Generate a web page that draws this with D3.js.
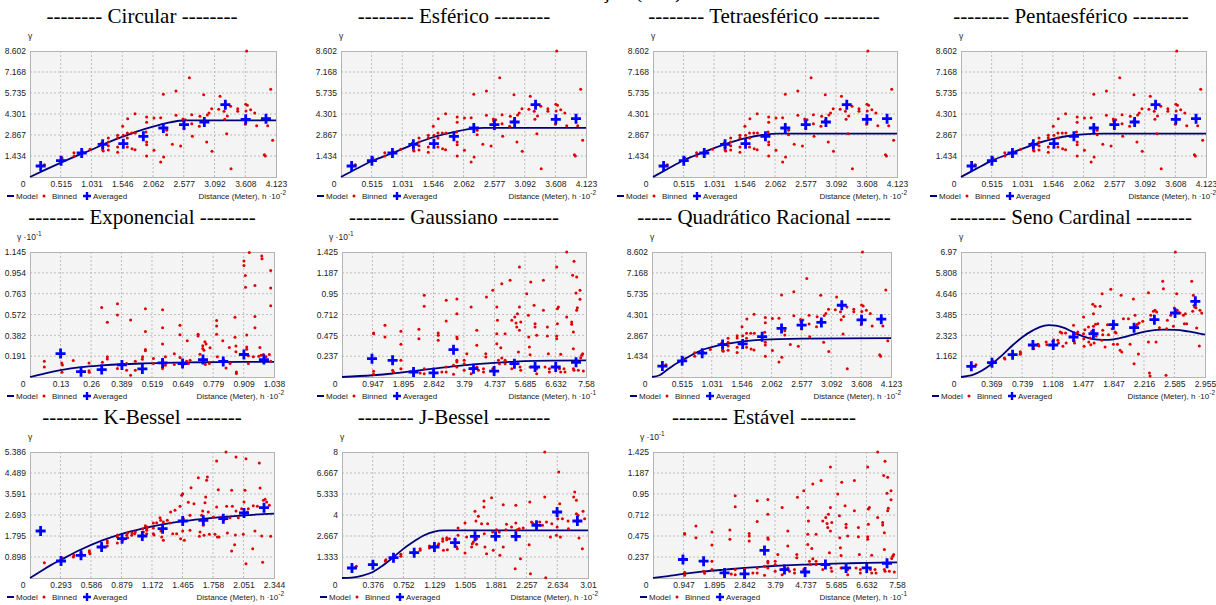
<!DOCTYPE html>
<html>
<head>
<meta charset="utf-8">
<script src="https://cdn.jsdelivr.net/npm/d3@7"></script>
<style>
body { margin: 0; background: #fff; }
svg { display: block; }
</style>
</head>
<body>
<svg id="chart" width="1216" height="605"></svg>
<script>
// ---- data ----

// dataset used by Circular / Esferico / Tetra / Penta / Quadratico
var xTicksA = ["0.515","1.031","1.546","2.062","2.577","3.092","3.608","4.123"];
var yTicksA = ["1.434","2.867","4.301","5.735","7.168","8.602"];
var binnedA = [[0.240,0.842],[0.536,1.297],[0.536,1.183],[0.737,1.661],[0.737,1.434],[0.883,1.707],[1.006,1.889],[1.201,2.321],[1.218,2.025],[1.218,1.843],[1.229,1.775],[1.313,2.663],[1.313,2.390],[1.313,2.139],[1.313,1.843],[1.469,2.845],[1.469,2.685],[1.469,2.048],[1.469,1.684],[1.553,3.459],[1.564,2.845],[1.637,3.983],[1.631,3.004],[1.631,2.663],[1.631,2.048],[1.704,3.004],[1.710,1.934],[1.760,4.324],[1.765,3.004],[1.760,1.866],[1.955,4.096],[1.955,3.732],[1.955,2.390],[1.955,2.207],[1.955,1.434],[1.944,3.072],[2.078,4.028],[2.078,1.821],[2.190,4.051],[2.190,1.024],[2.235,5.644],[2.240,1.365],[2.291,3.186],[2.291,2.890],[2.386,2.230],[2.447,5.871],[2.447,4.210],[2.525,2.116],[2.564,3.960],[2.570,3.823],[2.581,3.300],[2.603,3.914],[2.671,6.782],[2.710,4.256],[2.721,2.776],[2.710,3.641],[2.838,3.459],[2.849,4.142],[2.911,5.621],[2.916,3.869],[2.961,2.390],[2.972,4.233],[3.000,4.369],[3.045,4.665],[3.050,1.752],[3.162,4.620],[3.185,5.507],[3.252,4.483],[3.263,3.937],[3.296,2.958],[3.307,4.165],[3.363,4.825],[3.369,0.569],[3.481,4.665],[3.481,4.483],[3.615,4.961],[3.620,4.506],[3.609,3.596],[3.631,8.602],[3.643,4.893],[3.698,4.597],[3.766,4.369],[3.799,3.505],[3.928,1.525],[3.944,1.434],[3.983,3.505],[4.034,5.985],[4.067,2.503]];
var averagedA = [[0.179,0.751],[0.520,1.115],[0.866,1.638],[1.218,2.230],[1.564,2.276],[1.900,2.776],[2.235,3.345],[2.581,3.573],[2.922,3.755],[3.274,4.938],[3.615,3.937],[3.955,3.982]];
var modelCircular = [[0,0],[0.26,0.50],[0.52,0.98],[0.78,1.44],[1.03,1.86],[1.29,2.34],[1.55,2.75],[1.80,3.12],[2.06,3.44],[2.32,3.71],[2.50,3.84],[2.60,3.87],[4.123,3.87]];
var modelEsferico = [[0,0],[0.26,0.56],[0.52,1.09],[0.87,1.64],[1.22,2.23],[1.56,2.73],[1.90,3.07],[2.24,3.32],[2.40,3.35],[4.123,3.35]];
var modelTetra = [[0,0],[0.26,0.58],[0.52,1.14],[0.86,1.70],[1.21,2.23],[1.55,2.64],[1.89,2.89],[2.10,2.96],[4.123,2.96]];
var modelPenta = [[0,0],[0.26,0.57],[0.52,1.12],[0.86,1.66],[1.21,2.20],[1.55,2.60],[1.89,2.85],[2.20,2.95],[2.40,2.96],[4.123,2.96]];
var modelQuadratico = [[0,0],[0.13,0.12],[0.25,0.46],[0.36,0.78],[0.52,1.15],[0.70,1.55],[0.85,1.84],[1.03,2.05],[1.22,2.22],[1.57,2.45],[1.92,2.57],[2.60,2.64],[4.123,2.68]];

// Exponencial
var xTicksB = ["0.13","0.26","0.389","0.519","0.649","0.779","0.909","1.038"];
var yTicksB = ["0.191","0.382","0.572","0.763","0.954","1.145"];
var binnedB = [[0.061,0.145],[0.061,0.092],[0.135,0.129],[0.138,0.111],[0.136,0.043],[0.184,0.151],[0.251,0.129],[0.251,0.058],[0.252,0.043],[0.308,0.135],[0.305,0.637],[0.329,0.502],[0.329,0.185],[0.329,0.166],[0.372,0.671],[0.372,0.569],[0.372,0.077],[0.411,0.123],[0.411,0.062],[0.428,0.523],[0.428,0.015],[0.448,0.145],[0.448,0.062],[0.491,0.625],[0.491,0.416],[0.491,0.252],[0.491,0.240],[0.479,0.185],[0.478,0.163],[0.525,0.169],[0.525,0.123],[0.564,0.616],[0.564,0.452],[0.564,0.302],[0.564,0.154],[0.564,0.077],[0.576,0.185],[0.576,0.108],[0.614,0.212],[0.614,0.114],[0.638,0.474],[0.638,0.388],[0.638,0.179],[0.649,0.108],[0.666,0.145],[0.674,0.123],[0.681,0.154],[0.669,0.332],[0.715,0.391],[0.715,0.376],[0.723,0.209],[0.735,0.286],[0.735,0.262],[0.740,0.246],[0.744,0.323],[0.746,0.114],[0.749,0.302],[0.766,0.268],[0.763,0.123],[0.794,0.517],[0.794,0.468],[0.794,0.391],[0.797,0.185],[0.820,0.332],[0.825,0.154],[0.834,0.083],[0.848,0.271],[0.851,0.123],[0.872,0.548],[0.872,0.363],[0.876,0.283],[0.876,0.231],[0.878,0.046],[0.878,0.031],[0.910,1.062],[0.910,1.022],[0.916,0.930],[0.917,0.822],[0.922,0.385],[0.922,0.274],[0.922,0.255],[0.933,1.140],[0.929,0.194],[0.929,0.123],[0.950,0.185],[0.957,0.837],[0.957,0.554],[0.957,0.452],[0.973,0.191],[0.978,0.271],[0.983,0.200],[0.986,1.108],[0.987,1.083],[0.993,0.206],[1.004,0.185],[1.018,0.206],[1.024,0.976],[1.024,0.816],[1.024,0.653],[1.024,0.145]];
var averagedB = [[0.130,0.215],[0.217,0.049],[0.305,0.068],[0.391,0.111],[0.478,0.074],[0.564,0.129],[0.649,0.123],[0.736,0.160],[0.822,0.142],[0.910,0.206],[0.995,0.160]];
var modelExponencial = [[0,0],[0.065,0.034],[0.13,0.062],[0.217,0.090],[0.305,0.106],[0.391,0.117],[0.478,0.124],[0.564,0.129],[0.736,0.135],[0.90,0.138],[1.038,0.139]];

// Gaussiano / Estavel
var xTicksC = ["0.947","1.895","2.842","3.79","4.737","5.685","6.632","7.58"];
var yTicksC = ["0.237","0.475","0.712","0.95","1.187","1.425"];
var binnedC = [[0.982,0.502],[0.982,0.494],[0.982,0.065],[0.982,0.030],[1.334,0.589],[1.334,0.456],[1.572,0.076],[1.603,0.053],[1.830,0.521],[1.830,0.372],[1.830,0.190],[1.830,0.095],[2.223,0.076],[2.223,0.038],[2.389,0.543],[2.389,0.437],[2.430,0.046],[2.554,0.931],[2.554,0.806],[2.554,0.095],[2.554,0.038],[2.844,0.095],[2.989,0.502],[2.989,0.475],[2.989,0.418],[3.102,0.057],[3.237,0.874],[3.237,0.638],[3.237,0.114],[3.237,0.057],[3.464,0.133],[3.464,0.030],[3.568,0.889],[3.568,0.722],[3.568,0.456],[3.578,0.437],[3.568,0.190],[3.568,0.171],[3.568,0.114],[3.795,0.190],[3.795,0.152],[3.795,0.076],[3.878,0.266],[4.012,0.798],[4.012,0.095],[4.012,0.038],[4.188,0.532],[4.188,0.361],[4.188,0.114],[4.240,0.076],[4.395,0.095],[4.395,0.057],[4.467,0.266],[4.467,0.228],[4.488,0.912],[4.684,0.988],[4.684,0.095],[4.809,0.798],[4.809,0.494],[4.809,0.380],[4.829,0.646],[4.860,0.190],[4.891,0.152],[4.933,0.334],[4.964,1.064],[4.964,0.217],[5.067,0.494],[5.067,0.190],[5.067,0.152],[5.222,1.102],[5.274,0.646],[5.274,0.152],[5.274,0.095],[5.367,0.684],[5.408,0.616],[5.429,0.570],[5.450,0.722],[5.481,0.285],[5.512,1.254],[5.512,0.798],[5.512,0.532],[5.532,0.114],[5.553,0.627],[5.553,0.076],[5.739,0.950],[5.791,0.703],[5.801,0.456],[5.822,0.342],[5.843,0.255],[5.843,0.114],[5.863,1.083],[5.967,0.817],[5.998,0.608],[5.998,0.570],[6.049,0.475],[6.049,0.095],[6.049,0.038],[6.256,1.102],[6.256,0.760],[6.308,0.114],[6.380,0.570],[6.380,0.467],[6.411,0.266],[6.442,0.095],[6.442,0.057],[6.670,1.254],[6.670,0.467],[6.670,0.437],[6.691,0.779],[6.691,0.608],[6.722,0.798],[6.753,0.095],[6.794,0.057],[6.794,0.258],[6.897,0.095],[6.928,0.057],[6.980,1.425],[6.980,0.684],[7.135,0.627],[7.135,0.600],[7.166,1.159],[7.187,0.513],[7.187,0.323],[7.187,0.095],[7.208,1.319],[7.208,0.076],[7.270,0.958],[7.290,1.140],[7.290,0.760],[7.311,0.790],[7.342,0.076],[7.394,0.988],[7.394,0.885],[7.415,0.220],[7.446,0.247],[7.477,0.266],[7.497,0.068]];
var averagedC = [[0.931,0.209],[1.572,0.190],[2.223,0.057],[2.844,0.046],[3.464,0.312],[4.085,0.095],[4.726,0.068],[5.357,0.152],[5.998,0.114],[6.639,0.114],[7.270,0.167]];
var modelGaussiano = [[0,0],[0.947,0.020],[1.57,0.040],[2.22,0.068],[2.84,0.095],[3.46,0.122],[4.08,0.144],[4.73,0.162],[5.36,0.175],[6.00,0.183],[6.63,0.187],[7.58,0.190]];
var modelEstavel = [[0,0],[0.47,0.022],[0.935,0.046],[1.59,0.074],[2.23,0.095],[2.85,0.114],[3.48,0.130],[4.10,0.142],[4.76,0.152],[5.40,0.160],[6.02,0.166],[6.63,0.171],[7.58,0.176]];

// Seno Cardinal
var xTicksD = ["0.369","0.739","1.108","1.477","1.847","2.216","2.585","2.955"];
var yTicksD = ["1.162","2.323","3.485","4.646","5.808","6.97"];
var binnedD = [[0.181,0.688],[0.383,0.892],[0.524,1.059],[0.532,1.004],[0.629,1.301],[0.718,1.413],[0.718,1.338],[0.718,1.264],[0.879,1.729],[0.879,1.580],[0.935,1.822],[0.943,1.729],[1.032,1.952],[1.040,1.803],[1.113,1.989],[1.121,2.082],[1.173,2.045],[1.181,1.896],[1.201,2.509],[1.221,2.453],[1.234,1.710],[1.266,2.453],[1.274,1.896],[1.363,2.881],[1.371,2.472],[1.371,2.007],[1.375,1.896],[1.387,2.416],[1.415,2.509],[1.484,3.346],[1.484,2.416],[1.487,2.138],[1.491,1.710],[1.500,2.639],[1.544,2.788],[1.548,1.952],[1.564,2.175],[1.572,1.803],[1.584,2.546],[1.596,4.052],[1.604,2.825],[1.604,3.532],[1.612,1.896],[1.625,3.940],[1.629,2.937],[1.637,2.286],[1.657,2.974],[1.685,3.940],[1.705,2.045],[1.709,4.647],[1.717,2.361],[1.717,2.602],[1.745,1.673],[1.774,2.918],[1.786,2.361],[1.814,4.888],[1.830,2.695],[1.846,1.822],[1.866,2.509],[1.878,2.453],[1.895,1.822],[1.927,1.487],[1.939,4.554],[1.947,1.394],[1.967,3.253],[2.028,3.253],[2.048,1.822],[2.088,4.349],[2.096,0.743],[2.108,3.439],[2.120,2.844],[2.136,2.937],[2.149,1.283],[2.157,3.011],[2.201,3.104],[2.270,4.703],[2.270,1.952],[2.282,0.223],[2.290,0.056],[2.298,3.439],[2.330,3.662],[2.350,3.717],[2.362,1.952],[2.370,3.624],[2.403,2.751],[2.443,5.334],[2.451,4.926],[2.483,0.093],[2.491,2.695],[2.499,3.160],[2.540,3.439],[2.572,2.825],[2.584,3.847],[2.596,3.624],[2.596,6.970],[2.612,4.647],[2.620,3.717],[2.652,3.569],[2.693,3.439],[2.705,2.974],[2.717,3.532],[2.733,2.974],[2.794,5.334],[2.806,3.662],[2.814,4.554],[2.822,3.996],[2.830,3.903],[2.846,3.866],[2.854,2.732],[2.886,1.729],[2.894,3.717],[2.915,3.569]];
var averagedD = [[0.125,0.595],[0.375,0.799],[0.625,1.245],[0.871,1.784],[1.117,1.784],[1.363,2.230],[1.604,2.416],[1.846,2.918],[2.096,2.751],[2.342,3.197],[2.592,3.569],[2.838,4.219]];
var modelSeno = [[0,0],[0.15,0.13],[0.25,0.35],[0.375,0.74],[0.50,1.22],[0.625,1.77],[0.75,2.25],[0.871,2.60],[0.96,2.80],[1.06,2.89],[1.15,2.87],[1.25,2.74],[1.36,2.50],[1.48,2.26],[1.60,2.11],[1.72,2.07],[1.85,2.10],[2.00,2.25],[2.15,2.45],[2.30,2.58],[2.45,2.64],[2.60,2.63],[2.75,2.54],[2.955,2.36]];

// K-Bessel
var xTicksE = ["0.293","0.586","0.879","1.172","1.465","1.758","2.051","2.344"];
var yTicksE = ["0.898","1.795","2.693","3.591","4.489","5.386"];
var binnedE = [[0.138,0.655],[0.298,0.784],[0.304,0.841],[0.416,0.898],[0.423,0.969],[0.490,1.069],[0.496,1.012],[0.570,1.111],[0.570,1.168],[0.576,1.040],[0.688,1.396],[0.688,1.297],[0.743,1.582],[0.743,1.496],[0.743,1.368],[0.839,1.496],[0.839,1.753],[0.842,1.838],[0.890,1.610],[0.929,1.824],[0.938,1.724],[0.938,1.924],[0.977,1.824],[0.980,1.924],[1.005,1.895],[1.012,1.966],[1.082,2.109],[1.089,1.966],[1.108,2.237],[1.121,2.109],[1.121,2.038],[1.121,1.895],[1.127,2.180],[1.185,2.351],[1.185,2.137],[1.185,1.895],[1.191,1.838],[1.217,2.365],[1.249,2.579],[1.255,2.465],[1.258,2.009],[1.265,1.753],[1.281,2.394],[1.281,1.610],[1.319,2.465],[1.345,2.351],[1.351,2.821],[1.371,1.895],[1.393,2.893],[1.409,1.895],[1.441,3.064],[1.447,1.681],[1.457,3.534],[1.467,2.009],[1.467,3.605],[1.473,2.536],[1.483,1.610],[1.521,3.235],[1.537,2.038],[1.537,2.679],[1.547,3.861],[1.575,3.178],[1.617,4.289],[1.627,1.781],[1.633,1.966],[1.649,2.679],[1.659,2.864],[1.665,2.251],[1.672,1.824],[1.681,3.220],[1.688,3.463],[1.697,4.175],[1.704,4.317],[1.713,2.821],[1.723,1.867],[1.761,2.608],[1.777,1.867],[1.793,5.001],[1.793,3.035],[1.800,1.753],[1.809,3.776],[1.816,1.753],[1.841,2.608],[1.864,2.494],[1.883,5.386],[1.889,3.064],[1.896,1.924],[1.921,2.579],[1.937,3.747],[1.937,1.154],[1.944,3.064],[1.966,1.425],[1.973,1.838],[1.979,5.172],[1.979,2.864],[2.001,2.579],[2.033,2.964],[2.049,1.867],[2.056,3.249],[2.065,3.747],[2.075,0.613],[2.075,5.101],[2.088,2.821],[2.097,2.964],[2.139,1.254],[2.145,3.092],[2.161,2.009],[2.184,3.064],[2.203,4.916],[2.210,3.847],[2.226,1.795],[2.235,0.670],[2.242,3.320],[2.251,3.007],[2.258,3.363],[2.274,3.249],[2.299,3.106],[2.312,1.781]];
var averagedE = [[0.102,2.009],[0.298,0.727],[0.490,0.969],[0.688,1.325],[0.884,1.681],[1.079,1.795],[1.274,2.109],[1.467,2.437],[1.665,2.465],[1.857,2.536],[2.056,2.779],[2.248,3.007]];
var modelKBessel = [[0,0],[0.10,0.28],[0.20,0.55],[0.298,0.78],[0.49,1.22],[0.688,1.60],[0.884,1.89],[1.079,2.11],[1.274,2.29],[1.467,2.43],[1.665,2.53],[1.857,2.61],[2.056,2.68],[2.344,2.75]];

// J-Bessel
var xTicksF = ["0.376","0.752","1.129","1.505","1.881","2.257","2.634","3.01"];
var yTicksF = ["1.333","2.667","4","5.333","6.667","8"];
var binnedF = [[0.175,0.741],[0.386,0.910],[0.529,1.079],[0.537,1.164],[0.639,1.333],[0.720,1.376],[0.720,1.503],[0.883,1.651],[0.883,1.545],[0.956,1.757],[0.956,1.862],[1.070,2.032],[1.070,1.905],[1.127,2.053],[1.176,2.074],[1.184,2.180],[1.232,2.497],[1.232,2.328],[1.241,1.757],[1.281,2.561],[1.281,2.434],[1.289,1.799],[1.314,2.497],[1.383,2.455],[1.403,1.968],[1.411,1.862],[1.420,3.175],[1.420,2.709],[1.505,3.492],[1.505,1.587],[1.525,2.603],[1.586,1.968],[1.594,2.180],[1.607,2.286],[1.627,4.233],[1.639,3.619],[1.647,2.497],[1.647,2.138],[1.668,3.915],[1.708,3.450],[1.737,4.889],[1.737,4.508],[1.741,2.815],[1.749,1.968],[1.769,1.545],[1.782,3.450],[1.830,5.101],[1.843,2.921],[1.851,1.757],[1.891,3.069],[1.924,2.921],[1.932,1.439],[1.973,4.656],[1.973,1.968],[2.005,3.069],[2.013,3.407],[2.074,3.238],[2.119,0.593],[2.127,3.492],[2.127,4.614],[2.144,3.069],[2.168,3.132],[2.184,1.228],[2.217,3.175],[2.290,2.116],[2.298,4.825],[2.306,0.275],[2.319,3.556],[2.331,3.492],[2.347,3.407],[2.420,3.556],[2.453,3.344],[2.481,8.000],[2.481,5.143],[2.493,0.020],[2.502,3.556],[2.550,2.603],[2.567,3.450],[2.624,2.709],[2.632,3.238],[2.640,3.767],[2.652,6.730],[2.664,4.720],[2.672,2.603],[2.697,3.767],[2.766,3.619],[2.770,3.132],[2.835,5.143],[2.847,5.460],[2.868,4.931],[2.868,4.085],[2.888,3.979],[2.900,2.540],[2.941,1.862],[2.949,4.233],[2.969,3.767]];
var averagedF = [[0.122,0.635],[0.378,0.847],[0.630,1.291],[0.883,1.608],[1.131,1.968],[1.383,2.243],[1.627,2.646],[1.879,2.646],[2.127,2.646],[2.380,3.344],[2.632,4.190],[2.880,3.619]];
var modelJBessel = [[0,0],[0.12,0.03],[0.25,0.15],[0.378,0.38],[0.50,0.80],[0.63,1.33],[0.75,1.85],[0.883,2.33],[1.00,2.70],[1.131,2.95],[1.25,3.02],[1.40,3.03],[3.01,3.03]];

var titles = ["-------- Circular --------", "-------- Esférico --------", "-------- Tetraesférico --------", "-------- Pentaesférico --------",
              "-------- Exponencial --------", "-------- Gaussiano --------", "----- Quadrático Racional -----", "-------- Seno Cardinal --------",
              "-------- K-Bessel --------", "-------- J-Bessel --------", "-------- Estável --------"];

// layout of each small chart (pixels)
var panels = [
  {t:0, cx:142, x0:30, x1:276, y0:51, y1:177, lx:7, bin:binnedA, avg:averagedA, model:modelCircular, xt:xTicksA, yt:yTicksA, yexp:null, xexp:"-2"},
  {t:1, cx:454, x0:341, x1:586, y0:51, y1:177, lx:317, bin:binnedA, avg:averagedA, model:modelEsferico, xt:xTicksA, yt:yTicksA, yexp:null, xexp:"-2"},
  {t:2, cx:764, x0:653, x1:897, y0:51, y1:177, lx:617, bin:binnedA, avg:averagedA, model:modelTetra, xt:xTicksA, yt:yTicksA, yexp:null, xexp:"-2"},
  {t:3, cx:1071, x0:961, x1:1206, y0:51, y1:177, lx:930, bin:binnedA, avg:averagedA, model:modelPenta, xt:xTicksA, yt:yTicksA, yexp:null, xexp:"-2"},
  {t:4, cx:142, x0:30, x1:274, y0:252, y1:377, lx:7, bin:binnedB, avg:averagedB, model:modelExponencial, xt:xTicksB, yt:yTicksB, yexp:"-1", xexp:"-2"},
  {t:5, cx:454, x0:342, x1:586, y0:252, y1:377, lx:317, bin:binnedC, avg:averagedC, model:modelGaussiano, xt:xTicksC, yt:yTicksC, yexp:"-1", xexp:"-1"},
  {t:6, cx:764, x0:652, x1:891, y0:252, y1:377, lx:630, bin:binnedA, avg:averagedA, model:modelQuadratico, xt:xTicksA, yt:yTicksA, yexp:null, xexp:"-2"},
  {t:7, cx:1071, x0:961, x1:1205, y0:252, y1:377, lx:932, bin:binnedD, avg:averagedD, model:modelSeno, xt:xTicksD, yt:yTicksD, yexp:null, xexp:"-2"},
  {t:8, cx:142, x0:30, x1:274, y0:452, y1:578, lx:7, bin:binnedE, avg:averagedE, model:modelKBessel, xt:xTicksE, yt:yTicksE, yexp:null, xexp:"-2"},
  {t:9, cx:454, x0:342, x1:588, y0:452, y1:578, lx:320, bin:binnedF, avg:averagedF, model:modelJBessel, xt:xTicksF, yt:yTicksF, yexp:null, xexp:"-2"},
  {t:10, cx:764, x0:653, x1:897, y0:452, y1:578, lx:640, bin:binnedC, avg:averagedC, model:modelEstavel, xt:xTicksC, yt:yTicksC, yexp:"-1", xexp:"-1"}
];

var serif = "'Liberation Serif', 'Times New Roman', serif";
var sans = "'Liberation Sans', Arial, sans-serif";
var red = "#e00000", blue = "#0000ff", navy = "#00007a";
var plusPath = "M-5,0H5M0,-5V5";

var svg = d3.select("#chart");

// header of the figure, cut off at the top edge as in the source
svg.append("text")
  .attr("x", 682).attr("y", -2)
  .attr("text-anchor", "end")
  .attr("font-family", serif).attr("font-size", 21)
  .text("Modelos de semivariância - Elevação (mm)");

panels.forEach(function(p) {
  var g = svg.append("g");
  var x = d3.scaleLinear().domain([0, +p.xt[p.xt.length - 1]]).range([p.x0, p.x1]);
  var y = d3.scaleLinear().domain([0, +p.yt[p.yt.length - 1]]).range([p.y1, p.y0]);

  g.append("text")
    .attr("x", p.cx).attr("y", p.y0 - 28)
    .attr("text-anchor", "middle")
    .attr("font-family", serif).attr("font-size", 21)
    .text(titles[p.t]);

  g.append("rect")
    .attr("x", p.x0).attr("y", p.y0)
    .attr("width", p.x1 - p.x0).attr("height", p.y1 - p.y0)
    .attr("fill", "#f4f4f4");

  // dashed grid
  g.selectAll(".vg").data(p.xt.slice(0, -1)).enter().append("line")
    .attr("x1", d => x(+d)).attr("x2", d => x(+d))
    .attr("y1", p.y0).attr("y2", p.y1)
    .attr("stroke", "#bdbdbd").attr("stroke-dasharray", "2,2");
  g.selectAll(".hg").data(p.yt.slice(0, -1)).enter().append("line")
    .attr("x1", p.x0).attr("x2", p.x1)
    .attr("y1", d => y(+d)).attr("y2", d => y(+d))
    .attr("stroke", "#bdbdbd").attr("stroke-dasharray", "2,2");

  g.append("rect")
    .attr("x", p.x0 + 0.5).attr("y", p.y0 + 0.5)
    .attr("width", p.x1 - p.x0).attr("height", p.y1 - p.y0)
    .attr("fill", "none").attr("stroke", "#b4b4b4");

  // axes
  var yAxis = g.append("g")
    .attr("transform", "translate(" + p.x0 + ",0)")
    .call(d3.axisLeft(y).tickValues(p.yt.map(Number)).tickFormat((d, i) => p.yt[i]).tickSize(0).tickPadding(4));
  var xAxis = g.append("g")
    .attr("transform", "translate(0," + p.y1 + ")")
    .call(d3.axisBottom(x).tickValues(p.xt.map(Number)).tickFormat((d, i) => p.xt[i]).tickSize(0).tickPadding(4));
  [yAxis, xAxis].forEach(function(a) {
    a.select(".domain").remove();
    a.selectAll("text").attr("font-family", sans).attr("font-size", 8.5).attr("fill", "#222");
  });
  g.append("text")
    .attr("x", p.x0 - 7).attr("y", p.y1 + 10)
    .attr("text-anchor", "middle")
    .attr("font-family", sans).attr("font-size", 8.5).attr("fill", "#222")
    .text("0");

  // y label
  var yl = g.append("text")
    .attr("y", p.y0 - 12)
    .attr("font-family", sans).attr("font-size", 8.5).attr("fill", "#222");
  if (p.yexp) {
    yl.attr("x", p.x0 - 13).text("γ ·10");
    yl.append("tspan").attr("dy", -4).attr("font-size", 6.5).text(p.yexp);
  } else {
    yl.attr("x", p.x0).attr("text-anchor", "middle").text("γ");
  }

  // model, binned, averaged
  g.append("path")
    .datum(p.model)
    .attr("d", d3.line().x(d => x(d[0])).y(d => y(d[1])).curve(d3.curveMonotoneX))
    .attr("fill", "none").attr("stroke", navy).attr("stroke-width", 1.8);

  g.selectAll(".bin").data(p.bin).enter().append("circle")
    .attr("cx", d => x(d[0])).attr("cy", d => y(d[1]))
    .attr("r", 1.5).attr("fill", red);

  g.selectAll(".avg").data(p.avg).enter().append("path")
    .attr("transform", d => "translate(" + x(d[0]) + "," + y(d[1]) + ")")
    .attr("d", plusPath)
    .attr("stroke", blue).attr("stroke-width", 2.8);

  // legend
  var ly = p.y1 + 22;
  g.append("line").attr("x1", p.lx).attr("x2", p.lx + 7).attr("y1", ly - 3).attr("y2", ly - 3)
    .attr("stroke", navy).attr("stroke-width", 2);
  g.append("circle").attr("cx", p.lx + 37).attr("cy", ly - 3).attr("r", 1.5).attr("fill", red);
  g.append("path").attr("transform", "translate(" + (p.lx + 80) + "," + (ly - 3) + ")")
    .attr("d", "M-4,0H4M0,-4V4").attr("stroke", blue).attr("stroke-width", 2.4);
  [["Model", 9], ["Binned", 45], ["Averaged", 86]].forEach(function(l) {
    g.append("text").attr("x", p.lx + l[1]).attr("y", ly)
      .attr("font-family", sans).attr("font-size", 8).attr("fill", "#222").text(l[0]);
  });
  var dl = g.append("text").attr("x", p.x1 + 10).attr("y", ly)
    .attr("text-anchor", "end")
    .attr("font-family", sans).attr("font-size", 8).attr("fill", "#222");
  dl.append("tspan").text("Distance (Meter), h ·10");
  dl.append("tspan").attr("dy", -4).attr("font-size", 6.5).text(p.xexp);
});
</script>
</body>
</html>
